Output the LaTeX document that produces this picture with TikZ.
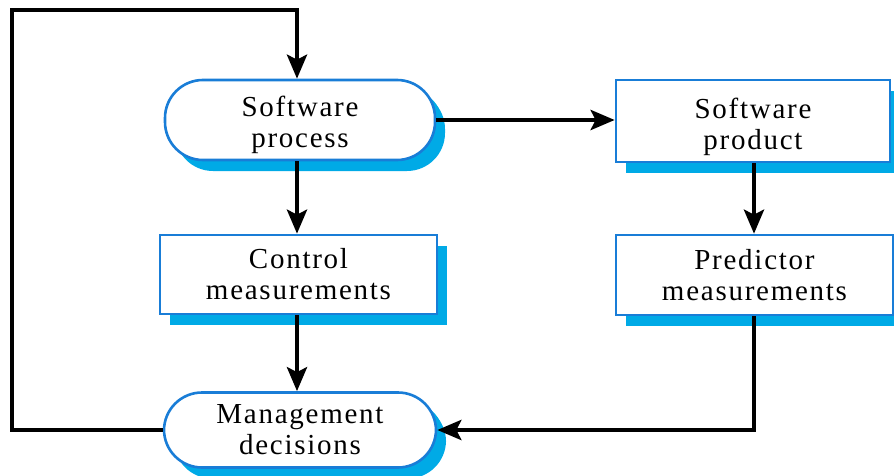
\documentclass[tikz,border=0pt]{standalone}
\usepackage{fontspec}
\setmainfont{Liberation Serif}[LetterSpace=6]
\usetikzlibrary{arrows.meta,shadows}
\definecolor{edgeblue}{RGB}{25,125,215}
\definecolor{shadeblue}{RGB}{0,170,230}
\tikzset{
  base/.style={draw=edgeblue, line width=2.6pt, fill=white, align=center,
    font=\fontsize{29}{31}\selectfont, inner sep=0pt,
    drop shadow={shadow xshift=10pt, shadow yshift=-11pt, fill=shadeblue, opacity=1}},
  pill/.style={base, rounded corners=38pt,
    drop shadow={shadow xshift=8pt, shadow yshift=-8pt, fill=shadeblue, opacity=1}},
  boxnode/.style={base},
  conn/.style={line width=4.5pt, -{Stealth[length=24pt,width=20pt,inset=5pt]}},
}
\begin{document}
\begin{tikzpicture}[x=1pt,y=-1pt]
\useasboundingbox (0,0) rectangle (894,476);
\node[pill, minimum width=270pt, minimum height=80pt] (sp) at (300,120) {\rule{0pt}{30pt}Software\\process};
\node[boxnode, minimum width=274pt, minimum height=82pt] (prod) at (753,121) {\rule{0pt}{32pt}Software\\product};
\node[boxnode, minimum width=277pt, minimum height=79pt] (ctrl) at (298.5,274.5) {Control\\measurements};
\node[boxnode, minimum width=277pt, minimum height=80pt] (pred) at (754.5,275) {Predictor\\measurements};
\node[pill, minimum width=272pt, minimum height=75pt] (mgmt) at (300,430) {Management\\decisions};
\coordinate (c1) at (12,430);
\coordinate (c2) at (12,10);
\coordinate (c3) at (297,10);
\coordinate (c4) at (754,430);
\draw[conn] (mgmt.west) -- (c1) -- (c2) -- (c3) -- (sp.north -| c3);
\draw[conn] (sp.east) -- (prod.west |- sp.east);
\draw[conn] (sp.south -| c3) -- (ctrl.north -| c3);
\draw[conn] (ctrl.south -| c3) -- (mgmt.north -| c3);
\draw[conn] (prod.south -| c4) -- (pred.north -| c4);
\draw[conn] (pred.south -| c4) -- (c4) -- (mgmt.east);
\end{tikzpicture}
\end{document}
